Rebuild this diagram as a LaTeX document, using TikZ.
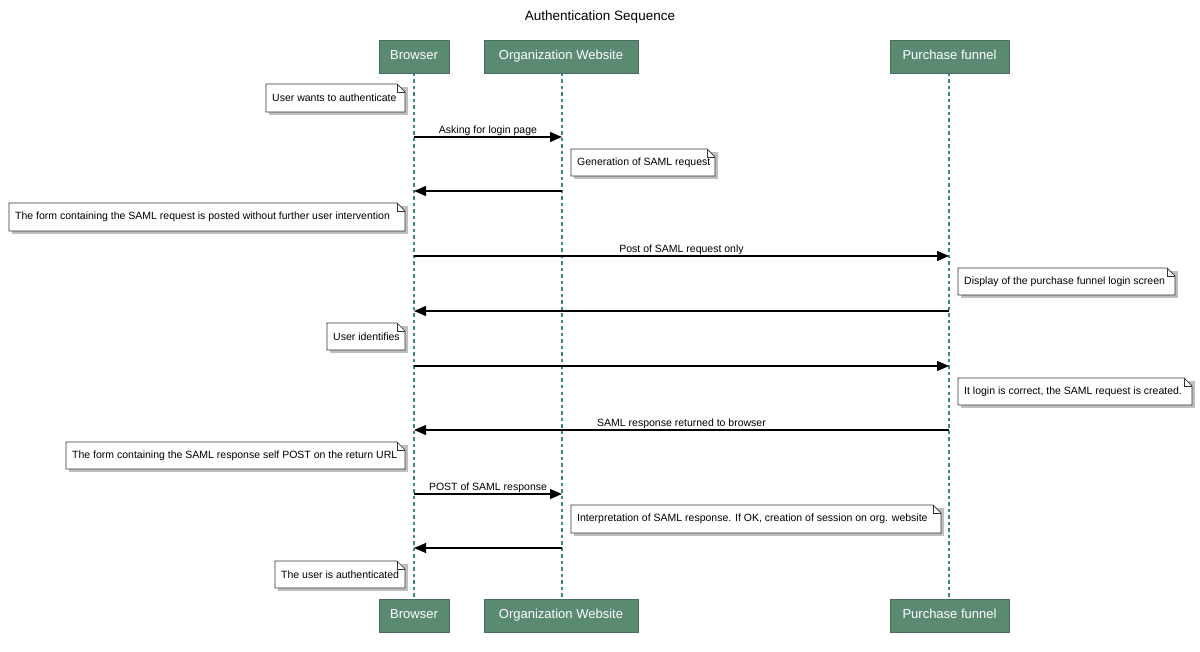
\documentclass[tikz,border=0pt]{standalone}
\usepackage{fontspec}
\setmainfont{Liberation Sans}
\usetikzlibrary{arrows.meta}
\definecolor{part}{HTML}{5A8A72}
\definecolor{life}{HTML}{3E8A6E}
\tikzset{
  hdr/.style={fill=part,draw=part!80!black,line width=0.6pt,text=white,font=\fontsize{13}{15}\selectfont,inner sep=0pt,minimum height=33pt,text height=9.5pt,text depth=3pt},
  msg/.style={line width=1.2pt,-{Triangle[length=12pt,width=10pt]}},
  lbl/.style={font=\fontsize{10.5}{12}\selectfont,inner sep=1pt,anchor=south},
  notetxt/.style={font=\fontsize{10.5}{12}\selectfont,anchor=west,inner sep=0pt},
  notebox/.style={fill=white,draw=black!80,line width=0.7pt},
}
\newcommand{\mynote}[6]{%
  \fill[black!25] (#2+3,#3+3) -- (#4+3,#3+3) -- (#4+3,#5+3) -- (#2+3,#5+3) -- cycle;
  \draw[notebox] (#2,#3) -- (#4-8,#3) -- (#4,#3+8) -- (#4,#5) -- (#2,#5) -- cycle;
  \draw[line width=0.7pt,black!80] (#4-8,#3) -- (#4-8,#3+8) -- (#4,#3+8);
  \node[notetxt] (#1) at (#2+6,{(#3+#5)/2}) {#6};}
\begin{document}
\begin{tikzpicture}[x=1pt,y=-1pt]
\useasboundingbox (0,0) rectangle (1200,652);
\node[font=\fontsize{13.5}{15}\selectfont] (title) at (600,17) {Authentication Sequence};
% lifelines
\coordinate (bt) at (414,73); \coordinate (bb) at (414,599);
\coordinate (ot) at (562,73); \coordinate (ob) at (562,599);
\coordinate (pt) at (949,73); \coordinate (pb) at (949,599);
\foreach \a/\b in {bt/bb,ot/ob,pt/pb} \draw[life,line width=1.8pt,dash pattern=on 3.5pt off 3pt] (\a) -- (\b);
% headers
\node[hdr,minimum width=70pt] (B1) at (414,56.5) {Browser};
\node[hdr,minimum width=154pt] (O1) at (561,56.5) {Organization Website};
\node[hdr,minimum width=119pt] (P1) at (949.5,56.5) {Purchase funnel};
\node[hdr,minimum width=70pt] (B2) at (414,615.5) {Browser};
\node[hdr,minimum width=154pt] (O2) at (561,615.5) {Organization Website};
\node[hdr,minimum width=119pt] (P2) at (949.5,615.5) {Purchase funnel};
% coordinates for messages
\foreach \y/\n in {137/1,191/2,256/3,311/4,366/5,430/6,494/7,548/8}{
  \coordinate (b\n) at (414,\y); \coordinate (o\n) at (562,\y); \coordinate (p\n) at (949,\y);}
\draw[msg] (b1) -- node[lbl] {Asking for login page} (o1);
\draw[msg] (o2) -- (b2);
\draw[msg] (b3) -- node[lbl] {Post of SAML request only} (p3);
\draw[msg] (p4) -- (b4);
\draw[msg] (b5) -- (p5);
\draw[msg] (p6) -- node[lbl] {SAML response returned to browser} (b6);
\draw[msg] (b7) -- node[lbl] {POST of SAML response} (o7);
\draw[msg] (o8) -- (b8);
% notes
\mynote{n1}{266}{84}{405}{112}{User wants to authenticate}
\mynote{n2}{571}{149}{715}{176}{Generation of SAML request}
\mynote{n3}{9}{203}{405}{231}{The form containing the SAML request is posted without further user intervention}
\mynote{n4}{958}{268}{1175}{295}{Display of the purchase funnel login screen}
\mynote{n5}{327}{323}{405}{350}{User identifies}
\mynote{n6}{958}{378}{1192}{405}{It login is correct, the SAML request is created.}
\mynote{n7}{66}{442}{405}{469}{The form containing the SAML response self POST on the return URL}
\mynote{n8}{571}{505}{941}{533}{Interpretation of SAML response. If OK, creation of session on org. website}
\mynote{n9}{275}{561}{405}{588}{The user is authenticated}
\end{tikzpicture}
\end{document}
